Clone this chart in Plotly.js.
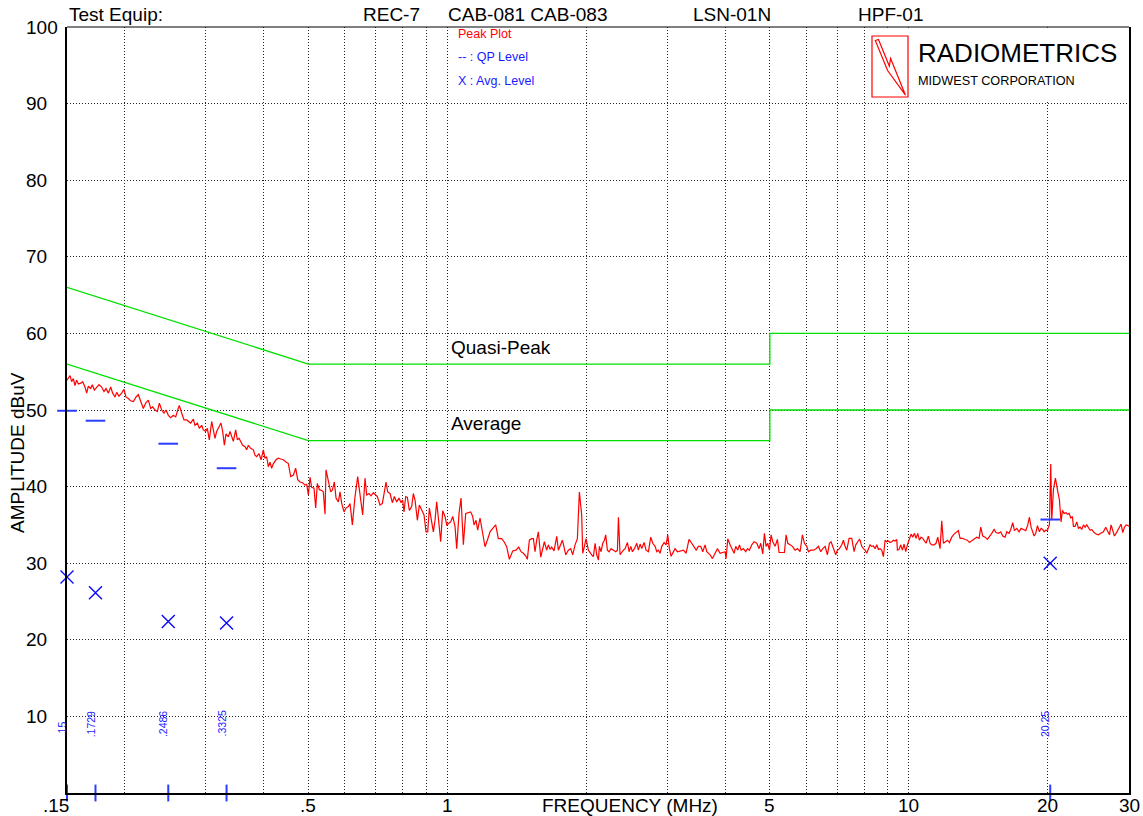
<!DOCTYPE html>
<html><head><meta charset="utf-8">
<script src="https://cdn.plot.ly/plotly-3.0.1.min.js"></script>
<style>html,body{margin:0;padding:0;background:#fff}#chart{width:1143px;height:816px}</style>
</head><body><div id="chart"></div>
<script>
// ---------- DATA ----------
const peakFreq = [
0.1500,0.1523,0.1535,0.1548,0.1561,0.1574,0.1587,0.1606,0.1622,0.1641,
0.1655,0.1668,0.1688,0.1702,0.1719,0.1739,0.1760,0.1783,0.1804,0.1822,
0.1844,0.1865,0.1884,0.1906,0.1922,0.1944,0.1970,0.1993,0.2013,0.2037,
0.2061,0.2089,0.2117,0.2141,0.2166,0.2195,0.2221,0.2251,0.2277,0.2300,
0.2327,0.2354,0.2378,0.2406,0.2434,0.2458,0.2487,0.2516,0.2550,0.2580,
0.2606,0.2627,0.2658,0.2689,0.2725,0.2757,0.2780,0.2817,0.2841,0.2874,
0.2903,0.2937,0.2961,0.2996,0.3021,0.3051,0.3087,0.3113,0.3139,0.3165,
0.3202,0.3234,0.3261,0.3289,0.3316,0.3355,0.3383,0.3411,0.3440,0.3480,
0.3509,0.3538,0.3568,0.3604,0.3646,0.3676,0.3707,0.3750,0.3801,0.3832,
0.3864,0.3910,0.3949,0.3995,0.4028,0.4062,0.4096,0.4130,0.4164,0.4200,
0.4256,0.4305,0.4356,0.4414,0.4474,0.4526,0.4579,0.4640,0.4694,0.4742,
0.4797,
0.4861,0.4918,0.4959,0.5001,0.5043,0.5084,0.5144,0.5187,0.5230,0.5283,
0.5345,0.5389,0.5434,0.5461,0.5526,0.5590,0.5637,0.5693,0.5741,0.5808,
0.5857,0.5906,0.5975,0.6035,0.6105,0.6156,0.6228,0.6312,0.6396,0.6471,
0.6558,0.6635,0.6690,0.6769,0.6836,0.6916,0.6974,0.7055,0.7150,0.7234,
0.7307,0.7368,0.7429,0.7516,0.7604,0.7680,0.7770,0.7861,0.7940,0.8006,
0.8060,0.8127,0.8195,0.8277,0.8374,0.8444,0.8515,0.8614,0.8700,0.8802,
0.8906,0.8995,0.9070,0.9145,0.9222,0.9330,0.9408,0.9486,0.9566,0.9677,
0.9775,0.9889,0.9972,1.0088,1.0172,1.0275,1.0395,1.0482,1.0605,1.0711,
1.0836,1.0964,1.1110,1.1240,1.1353,1.1428,1.1543,1.1639,1.1776,1.1914,
1.2073,1.2215,1.2379,1.2545,1.2733,1.2903,1.3121,1.3274,1.3452,1.3632,
1.3861,1.4093,1.4282,1.4449,1.4618,1.4814,1.4912,1.5062,1.5240,1.5367,
1.5495,1.5624,1.5754,1.5940,1.6098,1.6234,1.6424,1.6560,1.6698,1.6837,
1.7036,1.7264,1.7408,1.7553,1.7759,1.7908,1.8057,1.8299,1.8512,1.8698,
1.8918,1.9139,1.9331,1.9556,1.9655,1.9818,1.9984,2.0219,
2.039,2.056,2.073,2.091,2.108,2.126,2.136,2.154,2.172,2.190,
2.205,2.223,2.242,2.264,2.291,2.318,2.337,2.349,2.368,2.388,
2.408,2.428,2.457,2.477,2.498,2.519,2.544,2.574,2.595,2.617,
2.639,2.670,2.696,2.728,2.760,2.788,2.820,2.844,2.867,2.891,
2.916,2.950,2.979,3.004,3.029,3.055,3.080,3.116,3.153,3.195,
3.249,3.292,3.341,3.386,3.415,3.461,3.501,3.542,3.577,3.619,
3.650,3.680,3.711,3.754,3.805,3.849,3.901,3.953,3.999,4.019,
4.053,4.100,4.148,4.183,4.218,4.260,4.296,4.331,4.382,4.433,
4.471,4.515,4.568,4.622,4.684,4.738,4.778,4.826,4.866,4.907,
4.948,4.989,5.031,5.073,5.132,5.192,5.236,5.306,5.377,5.422,
5.467,5.531,5.596,5.671,5.737,5.814,5.882,5.941,6.011,6.061,
6.132,6.214,6.297,6.371,6.445,6.510,6.586,6.663,6.730,6.786,
6.866,6.946,7.004,7.075,7.157,7.217,7.277,7.338,7.424,7.524,
7.612,7.675,7.752,7.817,
7.842,7.907,7.974,8.040,8.107,8.175,8.243,8.312,8.382,8.451,
8.522,8.593,8.665,8.737,8.810,8.884,8.958,9.033,9.109,9.185,
9.261,9.338,9.417,9.448,9.526,9.606,9.686,9.767,9.849,9.931,
10.031,10.114,10.199,10.284,10.370,10.456,10.544,10.632,10.721,10.810,
10.900,11.028,11.120,11.213,11.344,11.458,11.553,11.689,11.787,11.885,
11.984,12.125,12.246,12.389,12.535,12.660,12.808,12.916,13.067,13.242,
13.397,13.532,13.690,13.850,14.036,14.200,14.318,14.462,14.632,14.803,
14.951,15.126,15.304,15.456,15.638,15.821,15.980,16.166,16.302,16.493,
16.630,16.797,16.938,17.136,17.336,17.510,17.715,17.923,18.102,18.254,
18.406,18.560,18.683,18.840,18.997,19.188,19.348,19.509,19.640,19.804,
19.969,20.102,20.169,20.303,20.405,20.576,20.782,20.991,21.201,21.378,
21.520,21.700,21.918,22.064,22.248,22.434,22.621,22.734,22.924,23.116,
23.309,23.504,23.700,23.898,24.097,24.298,24.501,24.706,24.913,25.121,
25.456,25.755,26.057,26.405,26.714,26.937,27.208,27.434,27.663,27.895,
28.128,28.362,28.599,28.838,29.079,29.322,29.567,29.913,30.0
];
const peakAmp = [
53.9,54.5,53.7,54.1,53.2,53.9,53.4,53.5,53.7,53.0,
52.2,53.1,52.8,53.3,52.6,53.0,53.3,53.0,52.4,52.8,
52.2,53.0,52.2,51.7,52.3,51.8,52.2,52.7,51.7,51.5,
51.2,51.1,51.7,52.0,51.1,50.2,50.9,51.3,50.2,50.4,
50.0,49.8,50.9,50.0,49.6,50.0,49.3,49.0,49.3,49.1,
50.0,50.6,49.6,48.7,48.7,48.5,48.3,48.8,48.0,48.3,
47.6,48.0,47.4,47.2,47.6,46.1,48.5,47.4,46.3,47.2,
47.8,48.3,47.2,45.4,46.9,46.5,47.2,46.5,45.9,47.4,
46.1,46.3,45.9,45.4,45.2,44.8,45.4,45.0,44.8,44.1,
43.9,44.3,43.5,44.8,43.7,43.9,42.6,43.2,42.4,43.0,
43.5,43.7,43.6,43.5,43.2,43.0,41.3,41.5,42.4,40.9,
40.6,
40.5,40.2,40.3,38.9,41.2,39.9,39.8,37.2,40.4,39.6,
39.5,39.3,36.4,42.2,40.6,39.3,39.55,40.6,38.5,38.0,
39.3,37.8,36.7,37.2,37.4,37.8,35.0,38.7,41.3,39.1,
36.3,41.1,38.9,39.1,38.8,39.2,39.0,38.7,37.6,37.8,
39.3,40.6,39.3,39.1,37.9,38.7,38.0,38.5,37.9,38.25,
36.7,38.7,38.6,36.9,37.4,39.1,38.25,35.6,37.6,36.9,
36.3,34.1,34.1,37.2,36.1,34.1,35.6,38.0,35.9,32.8,
36.85,36.1,35.0,35.2,35.4,36.1,34.8,31.9,36.5,38.5,
32.4,36.5,36.6,36.7,36.1,35.0,35.6,34.3,35.9,34.1,
32.15,33.0,34.1,34.55,35.0,33.2,33.2,32.8,32.15,30.5,
31.6,31.7,32.1,31.5,31.3,30.9,30.5,33.0,33.2,33.2,
31.5,33.0,34.1,30.8,31.9,32.8,31.7,32.4,31.8,32.1,
31.6,33.5,31.7,32.2,33.0,32.1,31.1,31.7,31.9,31.1,
32.4,33.2,39.3,36.3,31.3,32.15,33.2,31.7,
31.3,31.1,30.85,32.6,31.1,30.4,32.2,31.5,32.6,33.0,
33.7,31.7,31.5,31.9,31.7,31.5,31.7,36.0,31.1,31.5,
31.7,31.9,32.7,31.5,32.2,31.5,31.9,32.6,31.7,32.5,
31.9,32.7,31.7,31.5,33.4,32.6,32.2,31.5,31.7,31.3,
32.2,32.7,32.4,33.7,31.9,30.9,31.3,31.9,31.5,31.6,
31.7,31.3,33.1,32.6,32.2,31.7,32.2,32.2,31.5,32.4,
31.5,31.3,31.1,30.6,31.3,31.9,31.3,31.4,31.5,30.6,
33.2,32.4,31.7,31.3,32.2,31.7,32.4,31.7,31.9,31.5,
31.9,31.7,32.4,32.8,32.6,31.9,32.6,31.2,33.9,32.2,
32.6,31.7,33.7,32.8,32.2,33.1,31.4,31.4,31.4,33.7,
32.6,32.4,32.2,31.7,31.9,31.5,33.7,32.6,32.2,31.5,
31.7,31.7,31.9,32.2,31.5,31.9,32.2,31.1,32.6,32.8,
31.9,31.1,31.7,31.9,32.4,33.0,32.2,31.7,33.25,33.25,
31.5,32.4,32.8,33.1,
33.0,32.2,31.9,31.7,31.3,31.9,32.4,32.2,32.25,31.9,
32.4,31.8,31.9,31.7,30.85,33.0,32.8,32.9,32.7,32.8,
33.0,32.9,33.1,31.7,31.8,32.4,31.7,32.5,31.5,32.4,
33.1,33.8,33.4,33.9,33.25,33.9,33.0,33.4,33.25,32.9,
32.6,33.55,32.6,32.4,32.4,32.6,33.4,31.9,35.55,32.6,
32.8,33.0,32.7,33.4,33.8,34.0,34.25,33.25,33.25,33.1,
33.0,32.7,32.9,33.1,33.4,33.25,34.7,33.55,33.4,33.1,
33.55,33.9,34.4,34.0,33.9,34.1,33.55,33.4,34.1,33.9,
34.4,35.3,34.25,34.55,34.1,34.55,34.4,34.25,35.0,36.0,
34.7,34.1,33.55,33.9,34.9,34.1,34.55,34.4,34.1,34.3,
34.25,34.8,35.0,42.95,35.6,39.6,41.1,39.6,38.25,35.4,
36.9,36.5,36.6,36.4,36.5,35.9,36.1,34.8,34.8,35.4,
34.55,34.7,34.4,35.0,34.7,35.0,34.55,34.3,34.4,34.1,
33.8,33.7,33.9,34.1,34.7,34.3,33.7,35.0,34.1,33.55,
33.9,34.4,34.7,35.1,34.0,34.7,35.0,34.9,34.8
];
const limitFreq = [0.15, 0.5, 5, 5, 30];
const qpLimit   = [66, 56, 56, 60, 60];
const avgLimit  = [56, 46, 46, 50, 50];
const markFreq  = [0.15, 0.1729, 0.2486, 0.3325, 20.25];
const markLabel = ['.15', '.1729', '.2486', '.3325', '20.25'];
const qpLevel   = [49.9, 48.6, 45.6, 42.4, 35.7];
const avgLevel  = [28.2, 26.15, 22.4, 22.2, 30.0];
const gridFreq  = [0.2,0.3,0.4,0.5,0.6,0.7,0.8,0.9,1,2,3,4,5,6,7,8,9,10,20];
const xTickVals = [0.15, 0.5, 1, 5, 10, 20, 30];
const xTickText = ['.15', '.5', '1', '5', '10', '20', '30'];
const yTickVals = [10, 20, 30, 40, 50, 60, 70, 80, 90, 100];
const headerText = ['Test Equip:', 'REC-7', 'CAB-081 CAB-083', 'LSN-01N', 'HPF-01'];
const legendText = ['Peak Plot', '-- : QP Level', 'X : Avg. Level'];
const limitText  = ['Quasi-Peak', 'Average'];
const logoText   = ['RADIOMETRICS', 'MIDWEST CORPORATION'];
const axisTitles = {x: 'FREQUENCY (MHz)', y: 'AMPLITUDE dBuV'};

// ---------- LAYOUT HELPERS ----------
const L = 67, R = 1129, T = 27, B = 793, W = R - L, H = B - T;
const px = p => (p - L) / W;
const py = p => (B - p) / H;
const FONT = 'Liberation Sans, Arial, Helvetica, sans-serif';
const BLUE = '#1a1aff';

const traces = [
  {x: limitFreq, y: qpLimit, mode: 'lines', line: {color: '#00e000', width: 1.3}, hoverinfo: 'skip'},
  {x: limitFreq, y: avgLimit, mode: 'lines', line: {color: '#00e000', width: 1.3}, hoverinfo: 'skip'},
  {x: peakFreq, y: peakAmp, mode: 'lines', line: {color: '#ff0000', width: 1.2}, hoverinfo: 'skip'},
  {x: markFreq, y: qpLevel, mode: 'markers', cliponaxis: false,
   marker: {symbol: 'line-ew', size: 14, color: '#2a3cff', line: {color: '#2a3cff', width: 2}}},
  {x: markFreq, y: avgLevel, mode: 'markers', cliponaxis: false,
   marker: {symbol: 'x-thin', size: 13, color: '#0a0aff', line: {color: '#0a0aff', width: 1.4}}},
  {x: markFreq, y: markFreq.map(() => 0), mode: 'markers', cliponaxis: false,
   marker: {symbol: 'line-ns', size: 12, color: '#2a3cff', line: {color: '#2a3cff', width: 2}}}
];

const ann = [];
const headerX = [68, 362, 447, 692, 857];
headerText.forEach((t, i) => ann.push({xref: 'paper', yref: 'paper', x: px(headerX[i]), y: py(14),
  xanchor: 'left', yanchor: 'middle', text: t, showarrow: false, borderpad: 0, font: {size: 19}}));
yTickVals.forEach(v => ann.push({xref: 'paper', yref: 'y', x: px(25), y: v, xanchor: 'left', yanchor: 'middle',
  text: String(v), showarrow: false, borderpad: 0, font: {size: 19}}));
xTickVals.forEach((f, i) => ann.push({xref: 'x', yref: 'paper', x: Math.log10(f), y: py(805),
  xanchor: i === 0 ? 'right' : 'center', xshift: i === 0 ? 3 : 0, yanchor: 'middle',
  text: xTickText[i], showarrow: false, borderpad: 0, font: {size: 19}}));
ann.push({xref: 'paper', yref: 'paper', x: px(630), y: py(805), xanchor: 'center', yanchor: 'middle',
  text: axisTitles.x, showarrow: false, borderpad: 0, font: {size: 19}});
ann.push({xref: 'paper', yref: 'paper', x: px(17.5), y: py(452.5), xanchor: 'center', yanchor: 'middle',
  textangle: -90, text: axisTitles.y, showarrow: false, borderpad: 0, font: {size: 19}});
const legendY = [34, 57, 81], legendC = ['#ff0000', BLUE, BLUE];
legendText.forEach((t, i) => ann.push({xref: 'paper', yref: 'paper', x: px(457), y: py(legendY[i]),
  xanchor: 'left', yanchor: 'middle', text: t, showarrow: false, borderpad: 0, font: {size: 12.5, color: legendC[i]}}));
const limitY = [58.2, 48.3];
limitText.forEach((t, i) => ann.push({xref: 'x', yref: 'y', x: Math.log10(1), xshift: 3, y: limitY[i],
  xanchor: 'left', yanchor: 'middle', text: t, showarrow: false, borderpad: 0, font: {size: 19}}));
ann.push({xref: 'paper', yref: 'paper', x: px(917), y: py(53), xanchor: 'left', yanchor: 'middle',
  text: logoText[0], showarrow: false, borderpad: 0, font: {size: 26}});
ann.push({xref: 'paper', yref: 'paper', x: px(917), y: py(81), xanchor: 'left', yanchor: 'middle',
  text: logoText[1], showarrow: false, borderpad: 0, font: {size: 12.7}});
markFreq.forEach((f, i) => ann.push({xref: 'x', yref: 'y', x: Math.log10(f), y: 7.2, xshift: -5,
  xanchor: 'center', yanchor: 'bottom', textangle: -90, text: markLabel[i], showarrow: false, borderpad: 0,
  font: {size: 10.5, color: BLUE}}));

// logo bolt outline (decoration, in pixel space -> paper)
const bolt = [[875.3,40.5],[878.5,39.5],[889.3,66],[890.6,58.5],[905.5,95.2],[887.6,70.5]];
const boltPath = bolt.map((p, i) => (i ? 'L' : 'M') + px(p[0]).toFixed(5) + ',' + py(p[1]).toFixed(5)).join(' ') + ' Z';

const shapes = [
  {type: 'rect', xref: 'paper', yref: 'paper', x0: px(866), x1: px(1127.5), y0: py(100), y1: py(27.8),
   fillcolor: '#ffffff', line: {width: 0}, layer: 'above'},
  {type: 'line', xref: 'paper', yref: 'paper', x0: 0, x1: 1, y0: 1, y1: 1, line: {color: '#000', width: 1}},
  {type: 'rect', xref: 'paper', yref: 'paper', x0: px(872), x1: px(908), y0: py(97), y1: py(36),
   line: {color: '#ff0000', width: 1.2}, fillcolor: 'rgba(0,0,0,0)', layer: 'above'},
  {type: 'path', xref: 'paper', yref: 'paper', path: boltPath, line: {color: '#ff0000', width: 1.2},
   fillcolor: 'rgba(0,0,0,0)', layer: 'above'}
];

const gridStyle = {showgrid: true, gridcolor: '#222', gridwidth: 1, griddash: '1px,2px', zeroline: false,
  showticklabels: false, ticks: '', showline: true, linecolor: '#000', linewidth: 2, fixedrange: true};

const layout = {
  width: 1143, height: 816,
  margin: {l: L, r: 1143 - R, t: T, b: 816 - B, pad: 0},
  paper_bgcolor: '#fff', plot_bgcolor: '#fff',
  font: {family: FONT, size: 19, color: '#000'},
  showlegend: false,
  xaxis: Object.assign({}, gridStyle, {type: 'log', range: [Math.log10(xTickVals[0]), Math.log10(xTickVals[xTickVals.length - 1])],
    tickvals: gridFreq}),
  yaxis: Object.assign({}, gridStyle, {range: [0, 100], tickvals: yTickVals.filter(v => v < 100), mirror: true}),
  annotations: ann,
  shapes: shapes
};

Plotly.newPlot('chart', traces, layout, {displayModeBar: false, staticPlot: true});
</script></body></html>
